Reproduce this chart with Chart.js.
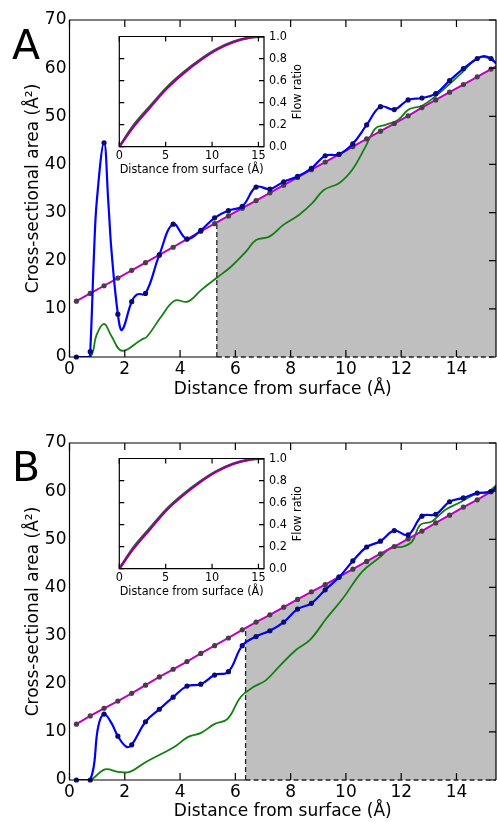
<!DOCTYPE html>
<html>
<head>
<meta charset="utf-8">
<script src="https://cdn.jsdelivr.net/npm/chart.js@4.4.1/dist/chart.umd.min.js"></script>
<style>
  body { margin: 0; background: #fff; }
  #wrap { position: relative; width: 497px; height: 822px; overflow: hidden; }
  canvas { position: absolute; }
</style>
</head>
<body>
<div id="wrap">
  <canvas id="mainA" width="497" height="400" style="left:0;top:0"></canvas>
  <canvas id="insetA" width="212" height="154" style="left:100px;top:24px"></canvas>
  <canvas id="mainB" width="497" height="399" style="left:0;top:423px"></canvas>
  <canvas id="insetB" width="212" height="154" style="left:100px;top:446px"></canvas>
</div>
<script>
// ---- data ----
const xTicksMain = [0, 2, 4, 6, 8, 10, 12, 14];
const yTicksMain = [0, 10, 20, 30, 40, 50, 60, 70];
const xTicksInset = [0, 5, 10, 15];
const yTicksInset = [0, 0.2, 0.4, 0.6, 0.8, 1.0];

// sample positions (Å) where the markers sit
const markX = [0.25, 0.75, 1.25, 1.75, 2.25, 2.75, 3.25, 3.75, 4.25, 4.75, 5.25, 5.75, 6.25, 6.75, 7.25, 7.75,
  8.25, 8.75, 9.25, 9.75, 10.25, 10.75, 11.25, 11.75, 12.25, 12.75, 13.25, 13.75, 14.25, 14.75, 15.25];
const refX = [0.25, 0.75, 1.25, 1.75, 2.25, 2.75, 3.25, 3.75, 4.25, 4.75, 5.25, 5.75, 6.25, 6.75, 7.25, 7.75,
  8.25, 8.75, 9.25, 9.75, 10.25, 10.75, 11.25, 11.75, 12.25, 12.75, 13.25, 13.75, 14.25, 14.75, 15.25, 15.75];

// panel A
const blueMarkA = [0, 1.1, 44.5, 8.9, 11.5, 13.2, 21.2, 27.6, 24.5, 26.3, 28.9, 30.4, 31.3, 35.3, 34.9, 36.4,
  37.5, 39.2, 41.8, 42.1, 44.3, 48.2, 52.0, 51.4, 53.4, 53.8, 54.7, 57.4, 59.9, 62.0, 62.0];
const blueCurveXA = [0.25, 0.7, 0.75, 0.89, 0.99, 1.25, 1.4, 1.52, 1.75, 1.9, 2.25, 2.45, 2.75, 3.25, 3.75, 4.25,
  4.75, 5.25, 5.75, 6.25, 6.75, 7.25, 7.75, 8.25, 8.75, 9.25, 9.75, 10.25, 10.75, 11.25, 11.75, 12.25, 12.75,
  13.25, 13.75, 14.25, 14.75, 15.0, 15.25, 15.45];
const blueCurveYA = [0, 0, 1.1, 22, 32.6, 44.5, 32.6, 22, 8.9, 5.6, 11.5, 13.0, 13.2, 21.2, 27.6, 24.5,
  26.3, 28.9, 30.4, 31.3, 35.3, 34.9, 36.4, 37.5, 39.2, 41.8, 42.1, 44.3, 48.2, 52.0, 51.4, 53.4, 53.8,
  54.7, 57.4, 59.9, 62.0, 62.5, 62.0, 60.9];
const refYA = [11.6, 13.2, 14.8, 16.4, 18.0, 19.6, 21.2, 22.8, 24.5, 26.1, 27.7, 29.3, 30.9, 32.5, 34.1, 35.7,
  37.3, 38.9, 40.5, 42.1, 43.7, 45.3, 46.9, 48.5, 50.1, 51.8, 53.4, 55.0, 56.6, 58.2, 59.8, 61.4];
const greenXA = [0.25, 0.75, 0.98, 1.25, 1.52, 1.9, 2.6, 2.8, 3.32, 3.8, 4.28, 4.76, 5.34, 5.85, 6.4, 6.75,
  7.23, 7.75, 8.3, 8.79, 9.2, 9.75, 10.23, 10.71, 11.07, 11.43, 11.9, 12.27, 12.75, 13.23, 13.71, 14.19,
  14.67, 15.03, 15.45];
const greenYA = [0, 0, 4.6, 6.9, 4.3, 1.3, 3.6, 4.2, 8.4, 11.7, 11.5, 13.9, 16.5, 18.8, 22.0, 24.3,
  25.0, 27.5, 29.5, 32.0, 34.7, 36.1, 38.9, 43.7, 47.5, 48.2, 49.3, 51.4, 52.2, 54.1, 56.5, 59.0,
  61.7, 62.3, 61.0];
const shadeStartA = 5.33;

// panel B
const blueMarkB = [0, 0, 13.7, 9.1, 7.3, 12.1, 14.7, 17.2, 19.5, 19.9, 21.8, 22.5, 27.9, 29.8, 31.0, 32.8,
  35.5, 36.7, 39.5, 42.1, 45.5, 48.4, 49.6, 51.8, 50.9, 54.8, 55.2, 57.8, 58.6, 59.6, 59.9];
const blueCurveXB = [0.25, 0.75, 1.04, 1.25, 1.52, 1.75, 2.06, 2.25, 2.75, 3.25, 3.75, 4.25, 4.75, 5.25, 5.75,
  6.25, 6.75, 7.25, 7.75, 8.25, 8.75, 9.25, 9.75, 10.25, 10.75, 11.25, 11.75, 12.25, 12.75, 13.25, 13.75,
  14.25, 14.75, 15.25, 15.45];
const blueCurveYB = [0, 0, 11.1, 13.7, 11.8, 9.1, 6.9, 7.3, 12.1, 14.7, 17.2, 19.5, 19.9, 21.8, 22.5,
  27.9, 29.8, 31.0, 32.8, 35.5, 36.7, 39.5, 42.1, 45.5, 48.4, 49.6, 51.8, 50.9, 54.8, 55.2, 57.8,
  58.6, 59.6, 59.9, 61.0];
const refYB = [11.6, 13.3, 14.9, 16.4, 18.0, 19.7, 21.4, 23.0, 24.6, 26.3, 27.9, 29.5, 31.2, 32.8, 34.3, 35.9,
  37.5, 39.1, 40.6, 42.2, 43.8, 45.4, 47.0, 48.5, 50.1, 51.7, 53.4, 55.0, 56.7, 58.2, 59.9, 61.5];
const greenXB = [0.25, 0.75, 1.28, 1.76, 2.18, 2.72, 3.32, 3.8, 4.28, 4.76, 5.24, 5.72, 6.2, 6.68, 7.1, 7.59,
  8.19, 8.7, 9.3, 9.9, 10.59, 11.19, 11.67, 12.03, 12.39, 12.69, 13.11, 13.59, 14.07, 14.67, 15.15, 15.45];
const greenYB = [0, 0, 2.2, 1.7, 1.7, 3.6, 5.4, 6.9, 8.9, 9.8, 11.6, 12.7, 17.3, 19.4, 20.7, 23.6,
  27.0, 29.1, 33.6, 37.8, 43.3, 46.1, 48.4, 48.4, 49.5, 53.0, 53.7, 56.1, 57.5, 59.3, 59.9, 61.3];
const shadeStartB = 6.37;

// insets: flow ratio vs distance
const flowX = [0, 1.5, 3.3, 5.1, 6.9, 8.7, 10.5, 12.3, 14.1, 15.6];
const flowGreenA = [0, 0.19, 0.366, 0.537, 0.674, 0.79, 0.886, 0.953, 0.991, 1.0];
const flowMagentaA = [0, 0.177, 0.354, 0.526, 0.664, 0.782, 0.88, 0.95, 0.99, 1.0];
const flowGreenB = [0, 0.19, 0.368, 0.542, 0.677, 0.792, 0.887, 0.954, 0.991, 1.0];
const flowMagentaB = [0, 0.178, 0.357, 0.532, 0.668, 0.785, 0.882, 0.951, 0.99, 1.0];

// ---- drawing ----
const FONT = "'DejaVu Sans', Verdana, sans-serif";
const INSET_FONT = "'DejaVu Sans Condensed', 'DejaVu Sans', sans-serif";
const BLUE = "#0000ff", GREEN = "#118011", MAGENTA = "#c000c0", SHADE = "#bfbfbf";

const pts = (xs, ys) => xs.map((x, i) => ({ x, y: ys[i] }));

// frame with inward ticks (matplotlib look), shaded region, panel letter
const framePlugin = {
  id: "frame",
  beforeDatasetsDraw(chart, args, o) {
    if (o.shadeFrom == null) return;
    const { ctx, chartArea: a, scales: { x, y } } = chart;
    const ref = chart.getDatasetMeta(o.refIndex).data;
    const y0 = y.getPixelForValue(0);
    const xs = x.getPixelForValue(o.shadeFrom);
    ctx.save();
    ctx.beginPath();
    ctx.rect(a.left, a.top, a.right - a.left, a.bottom - a.top);
    ctx.clip();
    // area under the reference line
    ctx.beginPath();
    ctx.moveTo(ref[0].x, y0);
    ref.forEach(p => ctx.lineTo(p.x, p.y));
    ctx.lineTo(ref[ref.length - 1].x, y0);
    ctx.closePath();
    ctx.clip();
    ctx.fillStyle = SHADE;
    ctx.fillRect(xs, a.top, a.right - xs, y0 - a.top);
    ctx.strokeStyle = "#222";
    ctx.lineWidth = 1.3;
    ctx.setLineDash([5, 3]);
    ctx.beginPath();
    ctx.moveTo(xs, y0);
    ctx.lineTo(xs, a.top);
    ctx.stroke();
    ctx.restore();
  },
  afterDatasetsDraw(chart, args, o) {
    const { ctx, chartArea: a, scales: { x, y } } = chart;
    ctx.save();
    ctx.strokeStyle = "#000";
    ctx.lineWidth = o.lineWidth;
    const cut = o.shadeFrom == null ? a.right : x.getPixelForValue(o.shadeFrom);
    ctx.beginPath();
    ctx.moveTo(cut, a.bottom);
    ctx.lineTo(a.left, a.bottom);
    ctx.lineTo(a.left, a.top);
    ctx.lineTo(a.right, a.top);
    ctx.lineTo(a.right, a.bottom);
    if (o.shadeFrom == null) ctx.closePath();
    ctx.stroke();

    const L = o.tickLen;
    ctx.beginPath();
    x.ticks.forEach(t => {
      const p = x.getPixelForValue(t.value);
      ctx.moveTo(p, a.bottom); ctx.lineTo(p, a.bottom - L);
      ctx.moveTo(p, a.top); ctx.lineTo(p, a.top + L);
    });
    y.ticks.forEach(t => {
      const p = y.getPixelForValue(t.value);
      ctx.moveTo(a.right, p); ctx.lineTo(a.right - L, p);
      if (o.leftTicks) { ctx.moveTo(a.left, p); ctx.lineTo(a.left + L, p); }
    });
    ctx.stroke();

    if (o.shadeFrom != null) {
      ctx.strokeStyle = "#222";
      ctx.lineWidth = 1.3;
      ctx.setLineDash([5, 3]);
      ctx.beginPath();
      ctx.moveTo(cut, a.bottom);
      ctx.lineTo(a.right, a.bottom);
      ctx.stroke();
      ctx.setLineDash([]);
    }

    ctx.fillStyle = "#000";
    if (o.letter) {
      ctx.font = `41px ${FONT}`;
      ctx.textBaseline = "alphabetic";
      ctx.textAlign = "left";
      ctx.fillText(o.letter, 12, o.letterY);
    }
    // right-hand axis title reading bottom to top
    if (o.rightTitle) {
      ctx.font = `12.5px ${INSET_FONT}`;
      ctx.textAlign = "center";
      ctx.textBaseline = "middle";
      ctx.translate(a.right + 34, (a.top + a.bottom) / 2);
      ctx.rotate(-Math.PI / 2);
      ctx.fillText(o.rightTitle, 0, 0);
    }
    ctx.restore();
  }
};

function fixedTicks(values) {
  return scale => { scale.ticks = values.map(v => ({ value: v })); };
}

const noGrid = { display: false, drawTicks: false };

function mainChart(id, letter, letterY, xAxisH, blueMark, blueCX, blueCY, refY, greenX, greenY, shadeFrom) {
  const tickFont = { family: FONT, size: 17 };
  return new Chart(document.getElementById(id), {
    type: "line",
    data: {
      datasets: [
        { data: pts(markX, blueMark), showLine: false, pointRadius: 2.6, pointBackgroundColor: "#0a0a78",
          pointBorderWidth: 0, clip: false },
        { data: pts(blueCX, blueCY), borderColor: BLUE, borderWidth: 2.2, tension: 0.4, pointRadius: 0 },
        { data: pts(markX, refY.slice(0, markX.length)), showLine: false, pointRadius: 2.6,
          pointBackgroundColor: "#4b3b4b", pointBorderWidth: 0, clip: false },
        { data: pts(refX, refY), borderColor: MAGENTA, borderWidth: 2, pointRadius: 0 },
        { data: pts(greenX, greenY), borderColor: GREEN, borderWidth: 1.8, tension: 0.4, pointRadius: 0 }
      ]
    },
    options: {
      responsive: false,
      animation: false,
      layout: { autoPadding: false, padding: { top: 20, right: 1, left: 0, bottom: 0 } },
      plugins: {
        legend: { display: false },
        tooltip: { enabled: false },
        frame: { lineWidth: 1.2, tickLen: 7, leftTicks: false, shadeFrom, refIndex: 3, letter, letterY }
      },
      scales: {
        x: {
          type: "linear", min: 0, max: 15.43,
          afterBuildTicks: fixedTicks(xTicksMain),
          afterFit: s => { s.height = xAxisH; },
          grid: noGrid, border: { display: false },
          ticks: { font: tickFont, color: "#000", padding: 2, autoSkip: false, maxRotation: 0 },
          title: { display: true, text: "Distance from surface (Å)", font: tickFont, color: "#000",
            padding: { top: 0, bottom: 0 } }
        },
        y: {
          type: "linear", min: 0, max: 70,
          afterBuildTicks: fixedTicks(yTicksMain),
          afterFit: s => { s.width = 69.5; },
          grid: noGrid, border: { display: false },
          ticks: { font: tickFont, color: "#000", padding: 3 },
          title: { display: true, text: "Cross-sectional area (Å²)", font: tickFont, color: "#000",
            padding: { top: 23, bottom: 0 } }
        }
      }
    },
    plugins: [framePlugin]
  });
}

function insetChart(id, green, magenta) {
  const f = { family: INSET_FONT, size: 12.5 };
  return new Chart(document.getElementById(id), {
    type: "line",
    data: {
      datasets: [
        { data: pts(flowX, magenta), borderColor: "#990099", borderWidth: 2.4, tension: 0.4,
          cubicInterpolationMode: "monotone", pointRadius: 0 },
        { data: pts(flowX, green), borderColor: "#117711", borderWidth: 2.4, tension: 0.4,
          cubicInterpolationMode: "monotone", pointRadius: 0 }
      ]
    },
    options: {
      responsive: false,
      animation: false,
      layout: { autoPadding: false, padding: { top: 9.7, left: 19.3, right: 0, bottom: 0 } },
      plugins: {
        legend: { display: false },
        tooltip: { enabled: false },
        frame: { lineWidth: 1.2, tickLen: 5, leftTicks: true, rightTitle: "Flow ratio" }
      },
      scales: {
        x: {
          type: "linear", min: 0, max: 15.6,
          afterBuildTicks: fixedTicks(xTicksInset),
          afterFit: s => { s.height = 31.3; },
          grid: noGrid, border: { display: false },
          ticks: { font: f, color: "#000", padding: 2, autoSkip: false, maxRotation: 0 },
          title: { display: true, text: "Distance from surface (Å)", font: f, color: "#000",
            padding: { top: 0, bottom: 1 } }
        },
        y: {
          type: "linear", position: "right", min: 0, max: 1,
          afterBuildTicks: fixedTicks(yTicksInset),
          afterFit: s => { s.width = 48; },
          grid: noGrid, border: { display: false },
          ticks: { font: f, color: "#000", padding: 5, callback: v => v.toFixed(1) }
        }
      }
    },
    plugins: [framePlugin]
  });
}

mainChart("mainA", "A", 59, 43, blueMarkA, blueCurveXA, blueCurveYA, refYA, greenXA, greenYA, shadeStartA);
mainChart("mainB", "B", 58, 42, blueMarkB, blueCurveXB, blueCurveYB, refYB, greenXB, greenYB, shadeStartB);
insetChart("insetA", flowGreenA, flowMagentaA);
insetChart("insetB", flowGreenB, flowMagentaB);
</script>
</body>
</html>
